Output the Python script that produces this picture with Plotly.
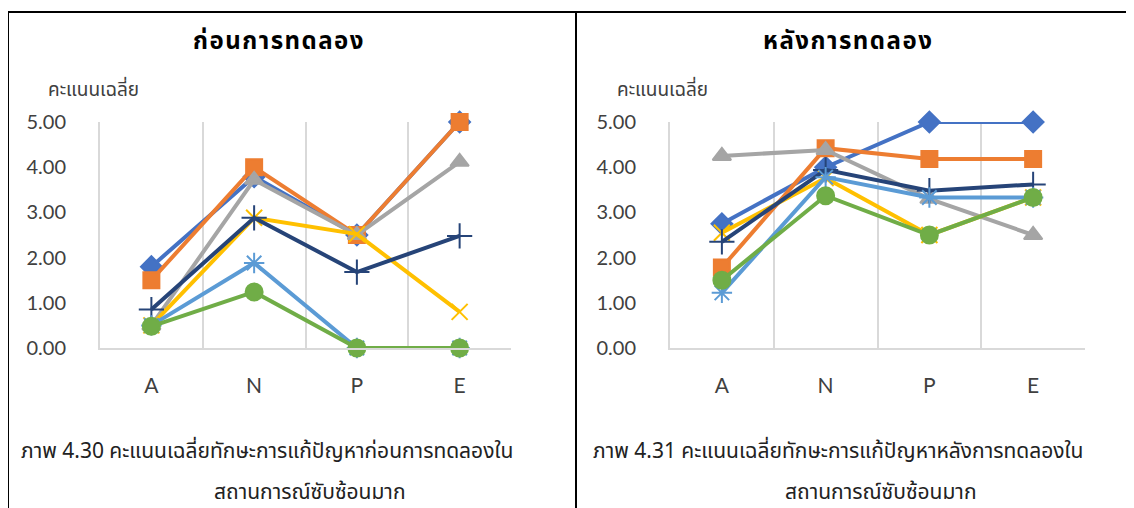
import plotly.graph_objects as go
from plotly.subplots import make_subplots

categories = ["A", "N", "P", "E"]
series_names = ["ชุด 1", "ชุด 2", "ชุด 3", "ชุด 4", "ชุด 5", "ชุด 6", "ชุด 7"]

before_blue = [1.80, 3.79, 2.50, 5.00]
before_orange = [1.50, 4.00, 2.50, 5.00]
before_gray = [0.50, 3.72, 2.50, 4.12]
before_yellow = [0.50, 2.88, 2.52, 0.80]
before_navy = [0.85, 2.88, 1.68, 2.48]
before_lightblue = [0.50, 1.88, 0.00, 0.00]
before_green = [0.48, 1.24, 0.00, 0.00]

after_blue = [2.75, 4.00, 5.00, 5.00]
after_orange = [1.78, 4.42, 4.18, 4.18]
after_gray = [4.25, 4.38, 3.30, 2.50]
after_yellow = [2.55, 3.76, 2.50, 3.33]
after_navy = [2.35, 3.94, 3.48, 3.62]
after_lightblue = [1.22, 3.78, 3.33, 3.33]
after_green = [1.50, 3.37, 2.50, 3.33]

yticks = [0, 1, 2, 3, 4, 5]
ytick_text = ["0.00", "1.00", "2.00", "3.00", "4.00", "5.00"]

colors = ["#4472C4", "#ED7D31", "#A5A5A5", "#FFC000", "#264478", "#5B9BD5", "#70AD47"]
symbols = ["diamond", "square", "triangle-up", "x-thin-open", "cross-thin-open", "asterisk-open", "circle"]
sizes = [16, 16, 16, 16, 18, 17, 17]

before = [before_blue, before_orange, before_gray, before_yellow, before_navy, before_lightblue, before_green]
after = [after_blue, after_orange, after_gray, after_yellow, after_navy, after_lightblue, after_green]

W, H = 1134, 508
OFF = 8  # page body margin
def px(x):
    return max(0.0, (x - OFF) / W)
def py(y):
    return min(1.0, 1 - (y - OFF) / H)

fig = make_subplots(rows=1, cols=2)

for col, data in ((1, before), (2, after)):
    for i, vals in enumerate(data):
        fig.add_trace(go.Scatter(
            x=categories, y=vals, mode="lines+markers", name=series_names[i],
            line=dict(color=colors[i], width=4),
            marker=dict(symbol=symbols[i], size=sizes[i], color=colors[i],
                        line=dict(color=colors[i], width=2)),
            cliponaxis=False, showlegend=False,
        ), row=1, col=col)

thai = "Noto Sans Thai, Tahoma, Loma, Garuda, sans-serif"
num_font = "Lato, Noto Sans, sans-serif"

fig.update_layout(
    width=W, height=H, margin=dict(l=0, r=0, t=0, b=0, pad=0, autoexpand=False),
    paper_bgcolor="white", plot_bgcolor="white", showlegend=False,
    xaxis=dict(domain=[px(100), px(511)]),
    xaxis2=dict(domain=[px(670), px(1085)]),
    yaxis=dict(domain=[py(348), py(122)]),
    yaxis2=dict(domain=[py(348), py(122)]),
)
for ax in ("xaxis", "xaxis2"):
    fig.layout[ax].update(
        type="category", range=[-0.5, 3.5], tickson="boundaries",
        showgrid=True, gridcolor="#D9D9D9", gridwidth=2,
        showline=True, linecolor="#D9D9D9", linewidth=2, mirror=False,
        ticks="", ticklabelstandoff=18, automargin=False,
        tickfont=dict(family=num_font, size=21, color="#404040"),
        zeroline=False, fixedrange=True,
    )
for ax in ("yaxis", "yaxis2"):
    fig.layout[ax].update(
        range=[0, 5], tickvals=yticks, ticktext=ytick_text,
        showgrid=False, zeroline=False,
        showline=True, linecolor="#D9D9D9", linewidth=2, ticks="",
        ticklabelstandoff=28, automargin=False,
        tickfont=dict(family=num_font, size=20, color="#404040"),
        fixedrange=True,
    )

def spaced(s):
    marks = set("\u0e31\u0e34\u0e35\u0e36\u0e37\u0e38\u0e39\u0e3a\u0e47\u0e48\u0e49\u0e4a\u0e4b\u0e4c\u0e4d")
    out = ""
    for ch in s:
        if out and ch not in marks:
            out += "\u200a"
        out += ch
    return out

annots = [
    (278, 42, spaced("ก่อนการทดลอง"), 24, "#000000", True),
    (847, 42, spaced("หลังการทดลอง"), 24, "#000000", True),
    (93, 91, "คะแนนเฉลี่ย", 19, "#404040", False),
    (662, 91, "คะแนนเฉลี่ย", 19, "#404040", False),
    (267, 451, "ภาพ 4.30 คะแนนเฉลี่ยทักษะการแก้ปัญหาก่อนการทดลองใน", 21, "#222222", False),
    (310, 492, "สถานการณ์ซับซ้อนมาก", 21, "#222222", False),
    (838, 451, "ภาพ 4.31 คะแนนเฉลี่ยทักษะการแก้ปัญหาหลังการทดลองใน", 21, "#222222", False),
    (881, 492, "สถานการณ์ซับซ้อนมาก", 21, "#222222", False),
]
for x, y, t, s, c, b in annots:
    fig.add_annotation(
        x=px(x), y=py(y), xref="paper", yref="paper", showarrow=False,
        text=("<b>" + t + "</b>") if b else t,
        font=dict(family=thai, size=s, color=c), xanchor="center", yanchor="middle",
    )

border = dict(color="black", width=2)
fig.add_shape(type="line", xref="paper", yref="paper", x0=px(8), x1=1, y0=py(12), y1=py(12), line=border)
fig.add_shape(type="line", xref="paper", yref="paper", x0=px(8), x1=px(8), y0=py(12), y1=0, line=border)
fig.add_shape(type="line", xref="paper", yref="paper", x0=px(576), x1=px(576), y0=py(12), y1=0, line=border)

fig.write_html("out.html")
